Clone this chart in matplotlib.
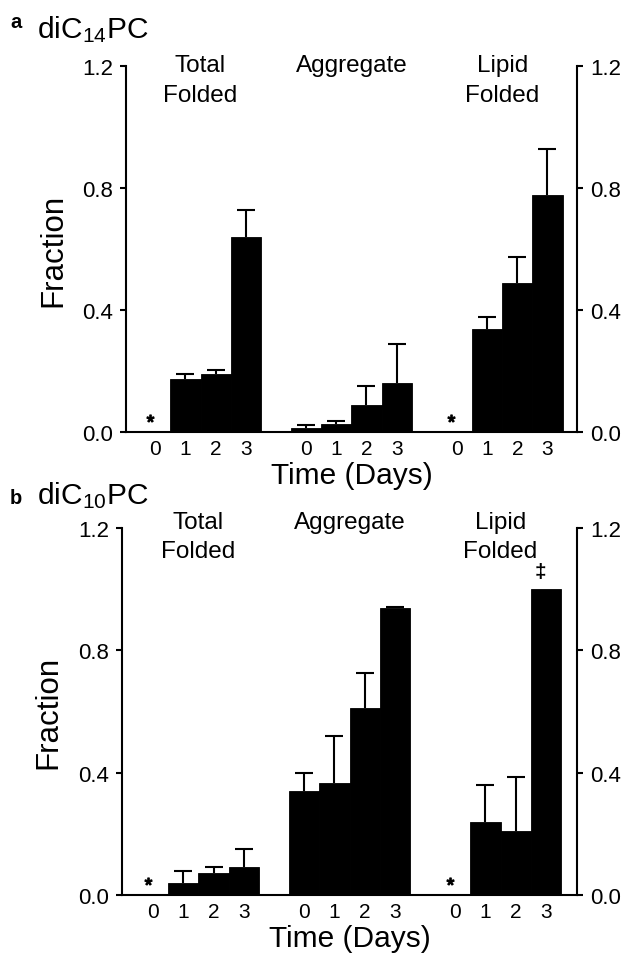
"""
Folding / aggregation time course for two lipid chain lengths.
Two stacked panels, three bar groups each (days 0-3).
"""

import numpy as np
import matplotlib
matplotlib.use("Agg")
import matplotlib.pyplot as plt
import matplotlib.transforms as mtransforms

plt.rcParams["font.family"] = ["Liberation Sans", "DejaVu Sans"]
plt.rcParams["mathtext.fontset"] = "custom"
plt.rcParams["mathtext.rm"] = "Liberation Sans"
plt.rcParams["mathtext.it"] = "Liberation Sans:italic"
plt.rcParams["mathtext.bf"] = "Liberation Sans:bold"

# ══════════════════════════════════════════════════════════════
#  DATA
# ══════════════════════════════════════════════════════════════
nan = np.nan

DAYS = [0, 1, 2, 3]
GROUP_NAMES = ["Total\nFolded", "Aggregate", "Lipid\nFolded"]
Y_TICKS = [0.0, 0.4, 0.8, 1.2]

# ── diC14PC ──────────────────────────────────────────────────
C14_TOTAL     = [nan, 0.174, 0.190, 0.638]
C14_TOTAL_ERR = [nan, 0.018, 0.015, 0.090]
C14_AGG       = [0.014, 0.027, 0.090, 0.160]
C14_AGG_ERR   = [0.009, 0.011, 0.060, 0.128]
C14_LIPID     = [nan, 0.339, 0.489, 0.777]
C14_LIPID_ERR = [nan, 0.040, 0.084, 0.149]

# ── diC10PC ──────────────────────────────────────────────────
C10_TOTAL     = [nan, 0.040, 0.074, 0.091]
C10_TOTAL_ERR = [nan, 0.038, 0.017, 0.060]
C10_AGG       = [0.340, 0.367, 0.611, 0.939]
C10_AGG_ERR   = [0.059, 0.153, 0.114, 0.004]
C10_LIPID     = [nan, 0.238, 0.209, 1.000]
C10_LIPID_ERR = [nan, 0.123, 0.178, nan]

# (group index, day) that get a double dagger in panel b
C10_DAGGER = [(2, 3)]

GROUP_STEP = len(DAYS) + 1


# ══════════════════════════════════════════════════════════════
#  PLOTTING
# ══════════════════════════════════════════════════════════════
def draw_panel(fig, rect, xlim, means, errs, group_label_y, daggers=()):
    ax = fig.add_axes(rect)
    shift = mtransforms.ScaledTranslation(-4 / 72, 0, fig.dpi_scale_trans)

    xs_all = []
    for g, (m, e) in enumerate(zip(means, errs)):
        x = g * GROUP_STEP + np.arange(len(DAYS))
        xs_all.extend(x)
        m = np.asarray(m, float)
        e = np.asarray(e, float)
        has = ~np.isnan(m)
        ax.bar(x[has], m[has], width=1.0, color="black", edgecolor="black",
               linewidth=0.6, zorder=2)

        ok = ~np.isnan(e)
        _, caps, _ = ax.errorbar(x[ok], m[ok], yerr=[np.zeros(ok.sum()), e[ok]],
                                 fmt="none", ecolor="black", elinewidth=1.5,
                                 capsize=6.5, capthick=1.5, zorder=3)
        caps[0].set_visible(False)  # only the upper whisker

        # no measurement -> asterisk
        for xi in x[~has]:
            ax.plot(xi, 0.046, marker=r"$*$", ms=5, color="black",
                    transform=ax.transData + shift, clip_on=False)

        ax.text(x.mean(), group_label_y, GROUP_NAMES[g], ha="center", va="top",
                fontsize=17.5, linespacing=1.45, clip_on=False)

    for g, d in daggers:
        xi = g * GROUP_STEP + d
        ax.text(xi, means[g][d] + 0.058, "\u2021", ha="center", va="center",
                fontsize=15, fontweight="bold",
                transform=ax.transData + shift)

    ax.set_xlim(*xlim)
    ax.set_ylim(0, 1.2)
    ax.set_yticks(Y_TICKS)
    ax.set_yticklabels([f"{t:.1f}" for t in Y_TICKS])
    ax.set_xticks(xs_all)
    ax.set_xticklabels([str(d) for d in DAYS] * len(means))
    for lab in ax.get_xticklabels():
        lab.set_transform(lab.get_transform() + shift)

    ax.spines["top"].set_visible(False)
    for s in ("left", "right", "bottom"):
        ax.spines[s].set_linewidth(1.5)
    ax.tick_params(axis="y", left=True, right=True, labelleft=True,
                   labelright=True, direction="out", length=4.5, width=1.5,
                   pad=5, labelsize=16)
    ax.tick_params(axis="x", length=0, pad=5, labelsize=15)

    ax.set_ylabel("Fraction", fontsize=22.5)
    ax.yaxis.set_label_coords(-0.128, 0.5)
    ax.set_xlabel("Time (Days)", fontsize=21.5)
    ax.xaxis.set_label_coords(0.5, -0.079)
    return ax


def main():
    fig = plt.figure(figsize=(6.24, 9.54), dpi=100)

    draw_panel(fig, [0.2019, 0.5458, 0.7228, 0.3843], (-0.97, 13.98),
               [C14_TOTAL, C14_AGG, C14_LIPID],
               [C14_TOTAL_ERR, C14_AGG_ERR, C14_LIPID_ERR],
               group_label_y=1.238)
    fig.text(0.016, 0.9706, "a", fontsize=14.5, fontweight="bold", va="baseline")
    fig.text(0.059, 0.9602, r"diC$_\mathregular{14}$PC", fontsize=21.5,
             va="baseline")

    draw_panel(fig, [0.1955, 0.0605, 0.7292, 0.3850], (-1.03, 14.03),
               [C10_TOTAL, C10_AGG, C10_LIPID],
               [C10_TOTAL_ERR, C10_AGG_ERR, C10_LIPID_ERR],
               group_label_y=1.257, daggers=C10_DAGGER)
    fig.text(0.016, 0.4717, "b", fontsize=14.5, fontweight="bold", va="baseline")
    fig.text(0.059, 0.4717, r"diC$_\mathregular{10}$PC", fontsize=21.5,
             va="baseline")

    fig.savefig("out.png", dpi=100)


if __name__ == "__main__":
    main()
